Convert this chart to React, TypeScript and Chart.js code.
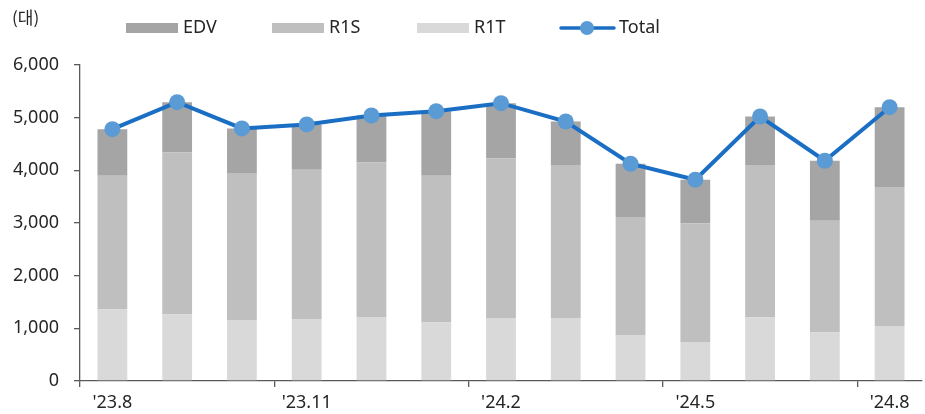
import React, { useEffect, useRef } from "react";
import { Chart, registerables } from "chart.js";

Chart.register(...registerables);

const months = ["'23.8", "'23.9", "'23.10", "'23.11", "'23.12", "'24.1", "'24.2", "'24.3", "'24.4", "'24.5", "'24.6", "'24.7", "'24.8"];
const r1t = [1358, 1263, 1156, 1175, 1213, 1112, 1194, 1194, 872, 739, 1207, 922, 1042];
const r1s = [2540, 3077, 2792, 2836, 2937, 2786, 3032, 2906, 2242, 2255, 2893, 2123, 2641];
const edv = [884, 954, 847, 860, 891, 1225, 1049, 827, 1011, 828, 922, 1137, 1516];
const total = [4782, 5294, 4795, 4871, 5041, 5123, 5275, 4927, 4125, 3822, 5022, 4182, 5199];
const yTicks = [0, 1000, 2000, 3000, 4000, 5000, 6000];
const unitLabel = "(대)";

const FONT = '"Noto Sans", "Noto Sans CJK KR", sans-serif';
const TEXT = "#262626";
const AXIS = "#595959";
const C_EDV = "#a5a5a5";
const C_R1S = "#bfbfbf";
const C_R1T = "#d9d9d9";
const C_LINE = "#1a6fc4";
const C_MARK = "#5b9bd5";

const legendPlugin = {
  id: "customLegend",
  afterDraw(chart: any) {
    const ctx = chart.ctx;
    ctx.save();
    ctx.fillStyle = TEXT;
    ctx.textBaseline = "middle";
    ctx.textAlign = "left";
    ctx.font = `17px "Noto Sans CJK KR", ${FONT}`;
    ctx.fillText(unitLabel, 12, 18);
    ctx.font = `18px ${FONT}`;
    const cy = 28;
    const items = [
      { label: "EDV", color: C_EDV, x: 126 },
      { label: "R1S", color: C_R1S, x: 272 },
      { label: "R1T", color: C_R1T, x: 417 },
    ];
    items.forEach((it) => {
      ctx.fillStyle = it.color;
      ctx.fillRect(it.x, cy - 5, 52, 10);
      ctx.fillStyle = TEXT;
      ctx.fillText(it.label, it.x + 57, cy);
    });
    const lx = 560;
    ctx.strokeStyle = C_LINE;
    ctx.lineWidth = 3.5;
    ctx.lineCap = "round";
    ctx.beginPath();
    ctx.moveTo(lx + 1, cy);
    ctx.lineTo(lx + 54, cy);
    ctx.stroke();
    ctx.fillStyle = C_MARK;
    ctx.beginPath();
    ctx.arc(lx + 27, cy, 7, 0, Math.PI * 2);
    ctx.fill();
    ctx.fillStyle = TEXT;
    ctx.fillText("Total", lx + 59, cy);
    ctx.restore();
  },
};

export default function App() {
  const ref = useRef<HTMLCanvasElement | null>(null);
  useEffect(() => {
    if (!ref.current) return;
    const chart = new Chart(ref.current, {
      type: "bar",
      data: {
        labels: months,
        datasets: [
          { type: "line", label: "Total", data: total, borderColor: C_LINE, backgroundColor: C_MARK, borderWidth: 4, pointRadius: 8, pointBackgroundColor: C_MARK, pointBorderColor: C_MARK, pointBorderWidth: 0, stack: "line", order: 0, tension: 0 } as any,
          { type: "bar", label: "R1T", data: r1t, backgroundColor: C_R1T, stack: "bars", order: 1, barPercentage: 0.46, categoryPercentage: 1 },
          { type: "bar", label: "R1S", data: r1s, backgroundColor: C_R1S, stack: "bars", order: 1, barPercentage: 0.46, categoryPercentage: 1 },
          { type: "bar", label: "EDV", data: edv, backgroundColor: C_EDV, stack: "bars", order: 1, barPercentage: 0.46, categoryPercentage: 1 },
        ],
      },
      options: {
        animation: false,
        responsive: false,
        maintainAspectRatio: false,
        layout: { autoPadding: false, padding: { top: 65, right: 3, left: 0, bottom: 0 } },
        plugins: { legend: { display: false }, tooltip: { enabled: false } },
        scales: {
          x: {
            stacked: true,
            offset: true,
            grid: {
              display: true,
              offset: true,
              drawOnChartArea: false,
              drawTicks: true,
              tickLength: 6,
              color: (c: any) => (c.index % 3 === 0 && c.index < months.length ? AXIS : "rgba(0,0,0,0)"),
              lineWidth: 1.3,
            },
            border: { display: true, color: AXIS, width: 1.3 },
            ticks: {
              autoSkip: false,
              maxRotation: 0,
              minRotation: 0,
              padding: 5,
              color: TEXT,
              font: { family: FONT, size: 18 },
              callback: (_v: any, i: number) => (i % 3 === 0 ? months[i] : ""),
            },
            afterFit: (s: any) => { s.height = 33; },
          },
          y: {
            stacked: true,
            min: 0,
            max: 6000,
            afterBuildTicks: (s: any) => { s.ticks = yTicks.map((v) => ({ value: v })); },
            grid: { display: true, drawOnChartArea: false, drawTicks: true, tickLength: 6, color: AXIS, lineWidth: 1.3 },
            border: { display: true, color: AXIS, width: 1.3 },
            ticks: {
              padding: 15,
              color: TEXT,
              font: { family: FONT, size: 18 },
              callback: (v: any) => Number(v).toLocaleString("en-US"),
            },
            afterFit: (s: any) => { s.width = 80; },
          },
        },
      },
      plugins: [legendPlugin],
    });
    return () => chart.destroy();
  }, []);
  return (
    <div style={{ position: "fixed", left: 0, top: 0, width: 925, height: 414, background: "#fff" }}>
      <canvas ref={ref} width={925} height={414} style={{ width: 925, height: 414 }} />
    </div>
  );
}
